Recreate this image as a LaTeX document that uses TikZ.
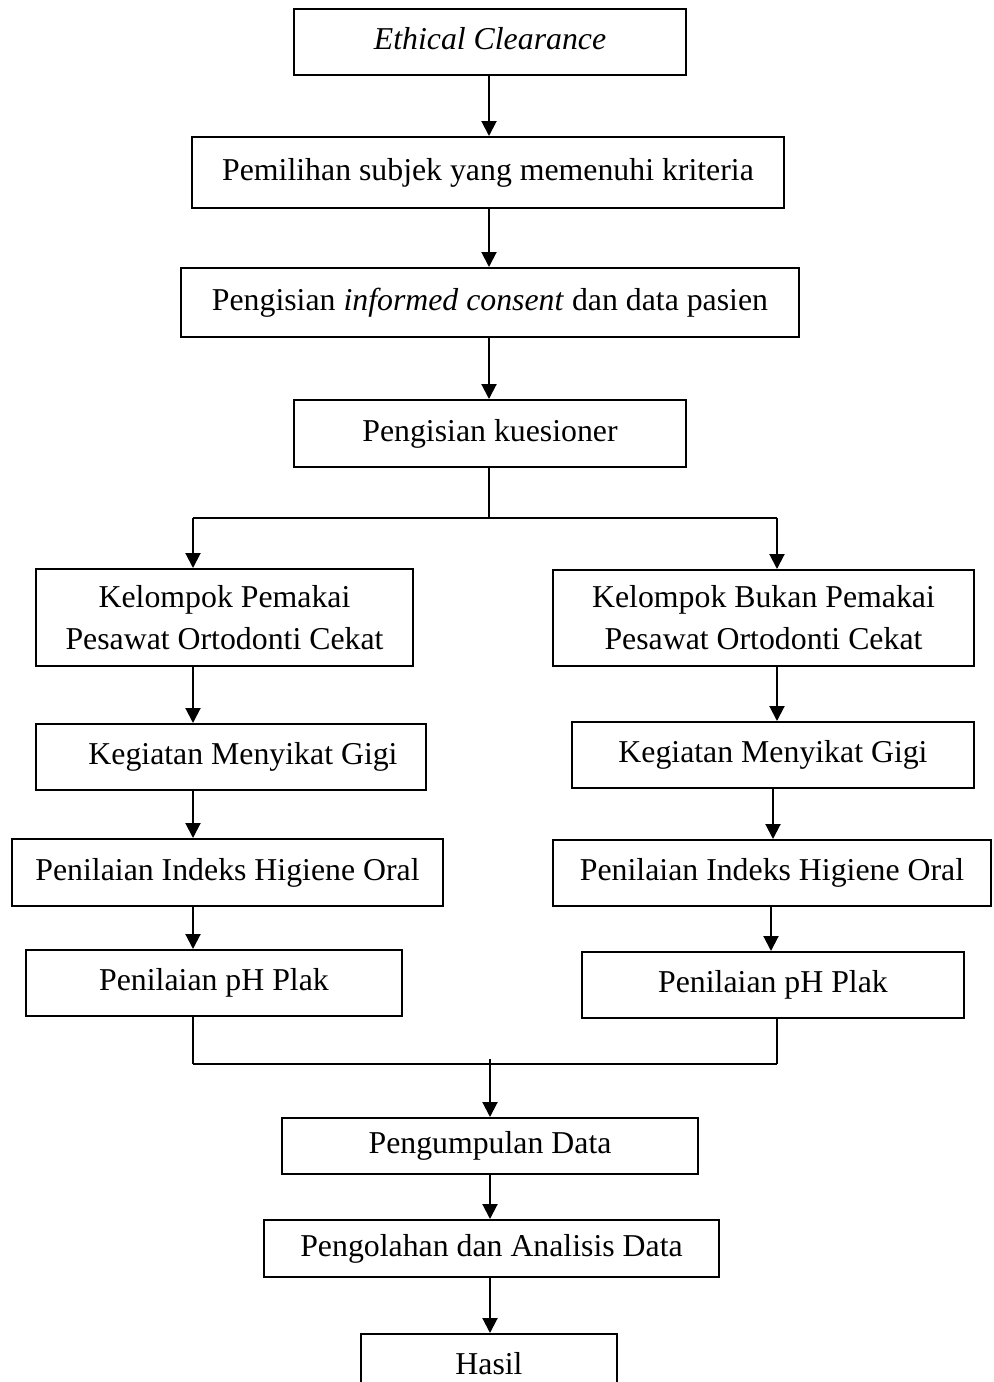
\documentclass[tikz,border=0pt]{standalone}
\usepackage{fontspec}
\setmainfont{Liberation Serif}
\usetikzlibrary{arrows.meta}
\tikzset{
  box/.style={draw, line width=1pt, inner sep=0pt, align=center,
    font=\fontsize{15.9}{21}\selectfont, text height=11pt, text depth=3.5pt},
  arr/.style={line width=1pt, -{Triangle[length=7.5pt,width=7.5pt]}},
  thinline/.style={line width=0.6pt},
  hline/.style={line width=0.9pt}
}
\begin{document}
\begin{tikzpicture}[x=0.5pt,y=-0.5pt]
\useasboundingbox (0,0) rectangle (993,1382);
\clip (0,0) rectangle (993,1382);
\fill[white] (0,0) rectangle (993,1382);
% main column
\node[box, minimum width=196pt, minimum height=33pt] (b1) at (490,42) {\textit{Ethical Clearance}};
\node[box, minimum width=296pt, minimum height=35.5pt] (b2) at (488,172.5) {Pemilihan subjek yang memenuhi kriteria};
\node[box, minimum width=309pt, minimum height=34.5pt] (b3) at (490,302.5) {Pengisian \textit{informed consent} dan data pasien};
\node[box, minimum width=196pt, minimum height=33.5pt] (b4) at (490,433.5) {Pengisian kuesioner};
% left column
\node[box, minimum width=188.5pt, minimum height=48.5pt, text height=, text depth=] (L5) at (224.5,617.5) {Kelompok Pemakai\\Pesawat Ortodonti Cekat};
\node[box, minimum width=195pt, minimum height=33pt] (L6) at (231,757) {\hspace*{12pt}Kegiatan Menyikat Gigi};
\node[box, minimum width=215.5pt, minimum height=33.5pt] (L7) at (227.5,872.5) {Penilaian Indeks Higiene Oral};
\node[box, minimum width=188pt, minimum height=33pt] (L8) at (214,983) {Penilaian pH Plak};
% right column
\node[box, minimum width=210.5pt, minimum height=48pt, text height=, text depth=] (R5) at (763.5,618) {Kelompok Bukan Pemakai\\Pesawat Ortodonti Cekat};
\node[box, minimum width=201pt, minimum height=33pt] (R6) at (773,755) {Kegiatan Menyikat Gigi};
\node[box, minimum width=219pt, minimum height=33pt] (R7) at (772,873) {Penilaian Indeks Higiene Oral};
\node[box, minimum width=191pt, minimum height=33pt] (R8) at (773,985) {Penilaian pH Plak};
% lower column
\node[box, minimum width=208pt, minimum height=28pt] (b9) at (490,1146) {Pengumpulan Data};
\node[box, minimum width=227.5pt, minimum height=28.5pt] (b10) at (491.5,1248.5) {Pengolahan dan Analisis Data};
\node[box, minimum width=128pt, minimum height=33pt] (b11) at (489,1367) {Hasil};
% coordinates
\coordinate (cx) at (489,0);
\coordinate (sp) at (489,518);
\coordinate (spL) at (193,518);
\coordinate (spR) at (777,518);
\coordinate (rx2) at (773,0);
\coordinate (rx3) at (771,0);
\coordinate (mL) at (193,1064);
\coordinate (mR) at (777,1064);
\coordinate (mC) at (490,1059);
% main arrows
\draw[arr] (b1.south -| cx) -- (b2.north -| cx);
\draw[arr] (b2.south -| cx) -- (b3.north -| cx);
\draw[arr] (b3.south -| cx) -- (b4.north -| cx);
% split
\draw[thinline] (b4.south -| cx) -- (sp);
\draw[hline] (spL) -- (spR);
\draw[arr] (spL) -- (L5.north -| spL);
\draw[arr] (spR) -- (R5.north -| spR);
% left column arrows
\draw[arr] (L5.south -| spL) -- (L6.north -| spL);
\draw[arr] (L6.south -| spL) -- (L7.north -| spL);
\draw[arr] (L7.south -| spL) -- (L8.north -| spL);
% right column arrows
\draw[arr] (R5.south -| spR) -- (R6.north -| spR);
\draw[arr] (R6.south -| rx2) -- (R7.north -| rx2);
\draw[arr] (R7.south -| rx3) -- (R8.north -| rx3);
% merge
\draw[thinline] (L8.south -| mL) -- (mL);
\draw[thinline] (R8.south -| mR) -- (mR);
\draw[hline] (mL) -- (mR);
\draw[arr] (mC) -- (b9.north -| mC);
\draw[arr] (b9.south -| mC) -- (b10.north -| mC);
\draw[arr] (b10.south -| mC) -- (b11.north -| mC);
\end{tikzpicture}
\end{document}
